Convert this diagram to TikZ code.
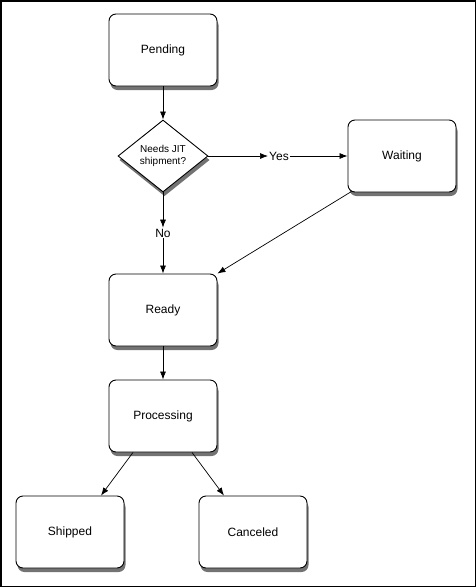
\documentclass[tikz,border=0pt]{standalone}
\usepackage{fontspec}
\setmainfont{Liberation Sans}
\usetikzlibrary{shapes.geometric,arrows.meta,calc}
\begin{document}
\begin{tikzpicture}[x=1pt,y=-1pt,
  statebox/.style={draw, line width=0.9pt, rounded corners=7pt, fill=white,
    minimum width=108pt, minimum height=72pt, font=\fontsize{12}{14}\selectfont},
  decide/.style={draw, diamond, line width=0.9pt, fill=white, aspect=1.25,
    minimum width=90pt, minimum height=72pt, inner sep=0pt, align=center,
    font=\fontsize{10}{12}\selectfont},
  shadowfill/.style={fill=black!55},
  lbl/.style={inner sep=1pt, fill=white, font=\fontsize{12}{14}\selectfont},
  conn/.style={line width=0.7pt, -{Latex[length=8pt,width=6pt]}}]
\useasboundingbox (0,0) rectangle (476,587);
\draw[line width=1.5pt] (0.75,0.75) rectangle (475.25,586.25);
% shadows drawn first, at the node positions
\foreach \x/\y in {163/50, 402/156, 163/310, 163/416, 70/532, 253/532}{
  \fill[shadowfill, rounded corners=7pt] (\x-54+1.5,\y-36+4) rectangle (\x+54+1.5,\y+36+4);
}
\fill[shadowfill] (163+1.5,120+4) -- (208+1.5,156+4) -- (163+1.5,192+4) -- (118+1.5,156+4) -- cycle;
\node[statebox] (pending) at (163,50) {Pending};
\node[decide] (jit) at (163,156) {Needs JIT\\shipment?};
\node[statebox] (waiting) at (402,156) {Waiting};
\node[lbl] (yes) at (279,156) {Yes};
\node[lbl] (no) at (163,233) {No};
\node[statebox] (ready) at (163,310) {Ready};
\node[statebox] (proc) at (163,416) {Processing};
\node[statebox] (shipped) at (70,532) {Shipped};
\node[statebox] (canceled) at (253,532) {Canceled};
\coordinate (wsw) at ($(waiting.south west)+(4,-1)$);
\coordinate (ps1) at ($(proc.south)+(-30,0)$);
\coordinate (ps2) at ($(proc.south)+(29,0)$);
\coordinate (sh1) at ($(shipped.north)+(31,0)$);
\coordinate (ca1) at ($(canceled.north)+(-29,0)$);
\draw[conn] (pending) -- (jit);
\draw[conn] (jit) -- (yes);
\draw[conn] (yes) -- (waiting);
\draw[conn] (jit) -- (no);
\draw[conn] (no) -- (ready);
\draw[conn] (wsw) -- (ready.north east);
\draw[conn] (ready) -- (proc);
\draw[conn] (ps1) -- (sh1);
\draw[conn] (ps2) -- (ca1);
\end{tikzpicture}
\end{document}
